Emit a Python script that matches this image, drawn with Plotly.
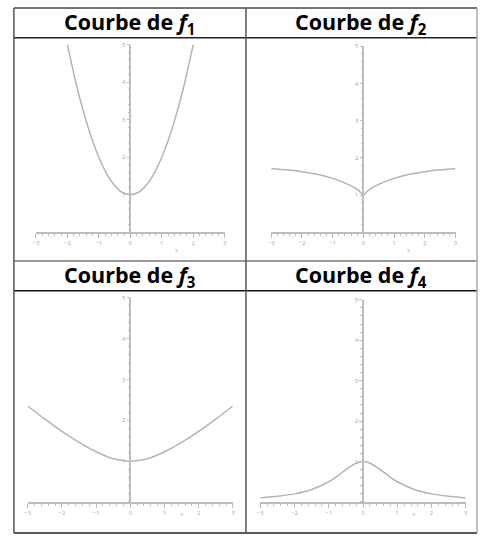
import plotly.graph_objects as go

# values
x_f1 = [-2, -1.75, -1.5, -1.25, -1, -0.75, -0.5, -0.25, 0, 0.25, 0.5, 0.75, 1, 1.25, 1.5, 1.75, 2]
y_f1 = [5.0, 4.06, 3.25, 2.56, 2.0, 1.56, 1.25, 1.06, 1.0, 1.06, 1.25, 1.56, 2.0, 2.56, 3.25, 4.06, 5.0]

x_f2 = [-3, -2.5, -2, -1.5, -1, -0.5, -0.25, -0.1, 0, 0.1, 0.25, 0.5, 1, 1.5, 2, 2.5, 3]
y_f2 = [1.71, 1.68, 1.63, 1.56, 1.45, 1.29, 1.18, 1.08, 1.0, 1.08, 1.18, 1.29, 1.45, 1.56, 1.63, 1.68, 1.71]

x_f3 = [-3, -2.5, -2, -1.5, -1, -0.5, 0, 0.5, 1, 1.5, 2, 2.5, 3]
y_f3 = [2.35, 2.03, 1.73, 1.46, 1.23, 1.06, 1.0, 1.06, 1.23, 1.46, 1.73, 2.03, 2.35]

x_f4 = [-3, -2.5, -2, -1.5, -1, -0.75, -0.5, -0.25, 0, 0.25, 0.5, 0.75, 1, 1.5, 2, 2.5, 3]
y_f4 = [0.1, 0.14, 0.2, 0.31, 0.5, 0.64, 0.8, 0.94, 1.0, 0.94, 0.8, 0.64, 0.5, 0.31, 0.2, 0.14, 0.1]

titles = ["Courbe de <i>f</i><sub>1</sub>", "Courbe de <i>f</i><sub>2</sub>",
          "Courbe de <i>f</i><sub>3</sub>", "Courbe de <i>f</i><sub>4</sub>"]
x_ticks = [-3, -2, -1, 0, 1, 2, 3]
y_ticks = [1, 2, 3, 4, 5]

W, H = 480, 537
CURVE = "#b4b4b4"
AXIS = "#bdbdbd"


def px(x):
    return x / W


def py(y):
    return 1 - y / H


# pixel boxes of each small graph: (left, right, top, bottom)
boxes = [(33.3, 224, 41, 230), (271, 457.3, 42.7, 230),
         (25, 232.3, 296, 501.7), (260, 467.7, 298, 501.7)]
curves = [(x_f1, y_f1), (x_f2, y_f2), (x_f3, y_f3), (x_f4, y_f4)]

fig = go.Figure()
layout = {}
for i, ((l, r, t, b), (xs, ys)) in enumerate(zip(boxes, curves), start=1):
    xa, ya = f"xaxis{i}", f"yaxis{i}"
    fig.add_trace(go.Scatter(
        x=xs, y=ys, mode="lines", xaxis=f"x{i}", yaxis=f"y{i}",
        line=dict(color=CURVE, width=1.5, shape="spline", smoothing=0.6),
        showlegend=False, hoverinfo="skip"
    ))
    layout[xa] = dict(
        domain=[px(l), px(r)], range=[-3, 3], anchor=f"y{i}",
        showgrid=False, zeroline=False, showline=True, linecolor=AXIS, linewidth=1.5,
        tickvals=x_ticks, ticks="outside", ticklen=4, tickcolor=AXIS, tickwidth=1.2,
        tickfont=dict(size=6, color="#a8a8a8"),
        minor=dict(dtick=0.2, ticklen=2, tickcolor=AXIS, ticks="outside"),
        fixedrange=True
    )
    layout[ya] = dict(
        domain=[py(b), py(t)], range=[0, 5], anchor="free",
        position=px((l + r) / 2),
        showgrid=False, zeroline=False, showline=True, linecolor=AXIS, linewidth=1.5,
        tickvals=y_ticks, ticks="outside", ticklen=3, tickcolor=AXIS, tickwidth=1.2,
        tickfont=dict(size=6, color="#a8a8a8"),
        minor=dict(dtick=0.2, ticklen=2, tickcolor=AXIS, ticks="outside"),
        fixedrange=True
    )

fig.update_layout(**layout)

# tiny "x" axis name under each graph
annotations = []
for i, (l, r, t, b) in enumerate(boxes, start=1):
    annotations.append(dict(
        x=1.5, xref=f"x{i}", y=py(b + 18), yref="paper", text="x",
        showarrow=False, font=dict(size=6, color="#b0b0b0")
    ))

# table headers
header_pos = [((11 + 245) / 2, 19), ((245 + 479) / 2, 19),
              ((11 + 245) / 2, 274), ((245 + 479) / 2, 274)]
for (cx, cy), txt in zip(header_pos, titles):
    annotations.append(dict(
        x=px(cx), y=py(cy), xref="paper", yref="paper", text=f"<b>{txt}</b>",
        showarrow=False, xanchor="center", yanchor="middle",
        font=dict(family="Open Sans", size=21.5, color="black")
    ))

# table rules
def hline(y, x0, x1, color, w=1.5):
    return dict(type="line", xref="paper", yref="paper", x0=px(x0), x1=px(x1),
                y0=py(y), y1=py(y), line=dict(color=color, width=w))


def vline(x, y0, y1, color, w=1.5):
    return dict(type="line", xref="paper", yref="paper", x0=px(x), x1=px(x),
                y0=py(y0), y1=py(y1), line=dict(color=color, width=w))


shapes = [
    hline(4, 11, 479, "#444"),
    hline(34, 11, 479, "#222"),
    hline(259, 11, 479, "#777"),
    hline(289, 11, 479, "#111"),
    hline(533, 11, 479, "#222"),
    vline(11, 4, 533, "#555"),
    vline(245.5, 4, 533, "#555"),
    vline(479, 4, 533, "#aaa"),
]

fig.update_layout(
    width=W, height=H,
    margin=dict(l=0, r=0, t=0, b=0),
    paper_bgcolor="white", plot_bgcolor="white",
    annotations=annotations, shapes=shapes,
    showlegend=False
)

fig.write_html("out.html", config={"displayModeBar": False},
               post_script="document.body.style.margin='0';")
